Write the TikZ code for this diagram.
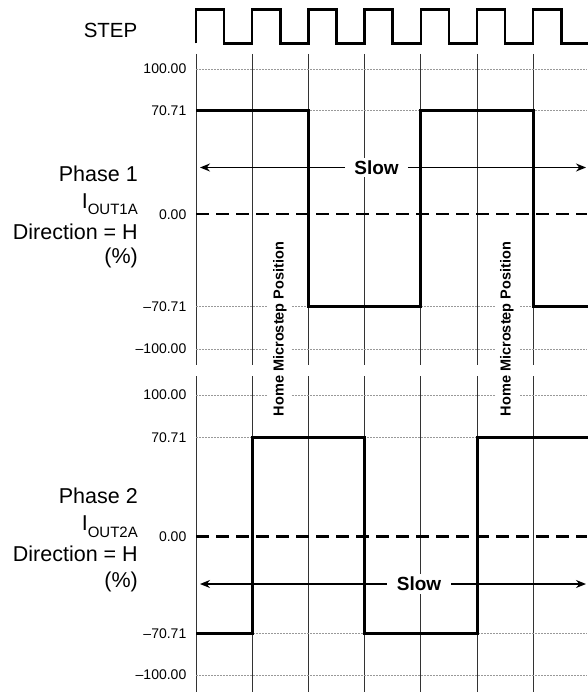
\documentclass[tikz,border=0pt]{standalone}
\usepackage{fontspec}
\setmainfont{Liberation Sans}
\usetikzlibrary{arrows.meta}
\begin{document}
\begin{tikzpicture}[x=1pt,y=-1pt,
  hgrid/.style={draw=black!40, line width=0.8pt, dash pattern=on 2pt off 1pt},
  vgrid/.style={draw=black!80, line width=0.9pt},
  wave/.style={line width=3pt, line join=miter},
  zeroline/.style={line width=2.6pt, dash pattern=on 13pt off 7pt},
  steppulse/.style={line width=2.5pt, line join=miter},
  axlabel/.style={anchor=east, inner sep=0pt, font=\fontsize{14}{14}\selectfont},
  phaselabel/.style={anchor=base east, inner sep=0pt, font=\fontsize{21.5}{21.5}\selectfont},
  slowlabel/.style={fill=white, inner xsep=9pt, inner ysep=3pt, font=\bfseries\fontsize{19}{19}\selectfont},
  homelabel/.style={fill=white, rotate=90, anchor=base, inner xsep=1pt, inner ysep=5pt, font=\bfseries\fontsize{14.5}{14.5}\selectfont},
  slowarrow/.style={line width=1.5pt, -{Stealth[length=10pt,width=8pt]}}
]
\useasboundingbox (0,0) rectangle (587,692);

% STEP label and pulse train
\node[phaselabel, font=\fontsize{20.5}{20.5}\selectfont] (step) at (137.5,37.3) {STEP};
\draw[steppulse] (196,43.5) \foreach \k in {0,...,6} {
  -- ({196+56.2*\k},9.5) -- ({224.1+56.2*\k},9.5)
  -- ({224.1+56.2*\k},43.5) -- ({252.2+56.2*\k},43.5) };

% vertical grid lines
\foreach \k in {0,...,6} {
  \draw[vgrid] ({196+56.2*\k},54) -- ({196+56.2*\k},365);
  \draw[vgrid] ({196+56.2*\k},376) -- ({196+56.2*\k},692);
}

% horizontal grid lines
\foreach \y in {69,110.7,306.7,349,395,437.3,633.3,675} {
  \draw[hgrid] (196,\y) -- (587,\y);
}
\draw[zeroline] (196,214.2) -- (587,214.2);
\draw[zeroline] (196,536.7) -- (587,536.7);

% axis labels, phase 1
\node[axlabel] (a1) at (186.5,69) {100.00};
\node[axlabel] (a2) at (186.5,110.7) {70.71};
\node[axlabel] (a3) at (186.5,214.2) {0.00};
\node[axlabel] (a4) at (186.5,306.7) {–70.71};
\node[axlabel] (a5) at (186.5,349) {–100.00};
% axis labels, phase 2
\node[axlabel] (b1) at (186.5,395) {100.00};
\node[axlabel] (b2) at (186.5,437.3) {70.71};
\node[axlabel] (b3) at (186.5,536.7) {0.00};
\node[axlabel] (b4) at (186.5,633.3) {–70.71};
\node[axlabel] (b5) at (186.5,675) {–100.00};

% phase 1 labels
\node[phaselabel] (p1a) at (138,181.7) {Phase 1};
\node[phaselabel] (p1b) at (138,208.3) {I\raisebox{-6.7pt}{\fontsize{15}{15}\selectfont OUT1A}};
\node[phaselabel] (p1c) at (138,239.3) {Direction = H};
\node[phaselabel] (p1d) at (138,263.5) {(\%)};
% phase 2 labels
\node[phaselabel] (p2a) at (138,503.5) {Phase 2};
\node[phaselabel] (p2b) at (138,530.8) {I\raisebox{-6.7pt}{\fontsize{15}{15}\selectfont OUT2A}};
\node[phaselabel] (p2c) at (138,561.8) {Direction = H};
\node[phaselabel] (p2d) at (138,587) {(\%)};

% waveforms
\draw[wave] (196,110.7) -- (308.4,110.7) -- (308.4,306.7) -- (420.8,306.7)
  -- (420.8,110.7) -- (533.2,110.7) -- (533.2,306.7) -- (590,306.7);
\draw[wave] (196,633.3) -- (252.2,633.3) -- (252.2,437.3) -- (364.6,437.3)
  -- (364.6,633.3) -- (477,633.3) -- (477,437.3) -- (590,437.3);

% Slow arrows
\node[slowlabel] (slow1) at (376.5,167.5) {Slow};
\coordinate (tipL1) at (200,167.5);
\coordinate (tipR1) at (586,167.5);
\draw[slowarrow] (slow1.west) -- (tipL1);
\draw[slowarrow] (slow1.east) -- (tipR1);

\node[slowlabel, inner xsep=10pt] (slow2) at (419,584) {Slow};
\coordinate (tipL2) at (200,584);
\coordinate (tipR2) at (586,584);
\draw[slowarrow] (slow2.west) -- (tipL2);
\draw[slowarrow] (slow2.east) -- (tipR2);

% Home microstep position labels
\node[homelabel] (home1) at (283.5,329) {Home Microstep Position};
\node[homelabel] (home2) at (510.5,329) {Home Microstep Position};
\end{tikzpicture}
\end{document}
